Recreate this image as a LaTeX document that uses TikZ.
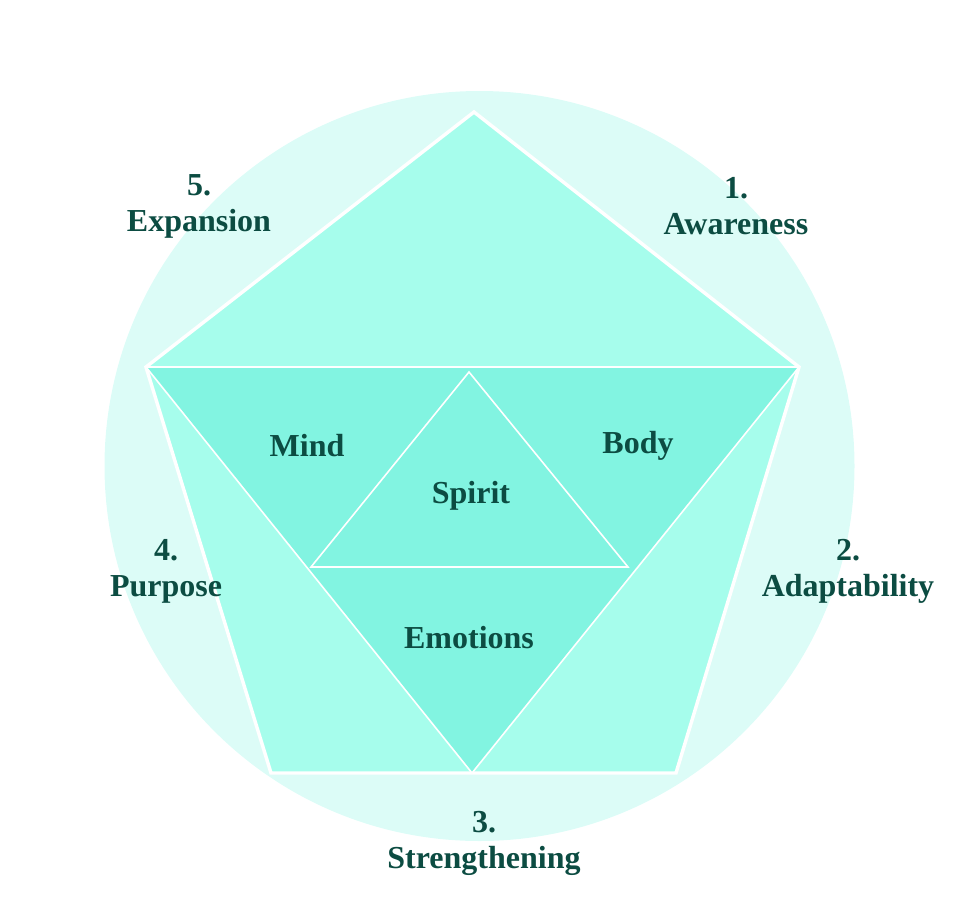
\documentclass[tikz,border=0pt]{standalone}
\usepackage{fontspec}
\setmainfont{Liberation Serif}
\usepackage{tikz}
\usetikzlibrary{calc}

\definecolor{ringfill}{HTML}{DCFCF7}
\definecolor{pentfill}{HTML}{A6FDEC}
\definecolor{trifill}{HTML}{82F4E1}
\definecolor{labelcol}{HTML}{0C4C42}

\tikzset{
  lbl/.style={text=labelcol,font=\fontsize{24}{27}\selectfont\bfseries,align=center,inner sep=0pt}
}

\begin{document}
\begin{tikzpicture}[x=0.75pt,y=-0.75pt]
    \useasboundingbox (0,0) rectangle (970,906);
    % corners of the pentagon
    \coordinate (top) at (474,112);
    \coordinate (rgt) at (799,367);
    \coordinate (brt) at (676,773);
    \coordinate (blt) at (271,773);
    \coordinate (lft) at (146,367);
    \coordinate (bot) at (472,773);
    % inner triangle
    \coordinate (sTop) at (469,372);
    \coordinate (sLft) at (311,567);
    \coordinate (sRgt) at (628,567);
    \fill[ringfill] (479.5,466) circle (375);
    \draw[white,line width=2.6pt,fill=pentfill,line join=miter] (top) -- (rgt) -- (brt) -- (blt) -- (lft) -- cycle;
    \draw[white,line width=1.2pt,fill=trifill] (lft) -- (rgt) -- (bot) -- cycle;
    \draw[white,line width=1.2pt] (sTop) -- (sLft) -- (sRgt) -- cycle;
    \node[lbl] (aware) at (736,206) {1.\\Awareness};
    \node[lbl] (adapt) at (848,571) {2.\\Adaptability};
    \node[lbl] (streng) at (484,843) {3.\\Strengthening};
    \node[lbl] (purp) at (166,571) {4.\\Purpose};
    \node[lbl] (expan) at (199,206) {5.\\Expansion};
    \node[lbl] (mind) at (307,446) {Mind};
    \node[lbl] (body) at (638,446) {Body};
    \node[lbl] (spirit) at (471,496) {Spirit};
    \node[lbl] (emo) at (469,638) {Emotions};
  \end{tikzpicture}
\end{document}
